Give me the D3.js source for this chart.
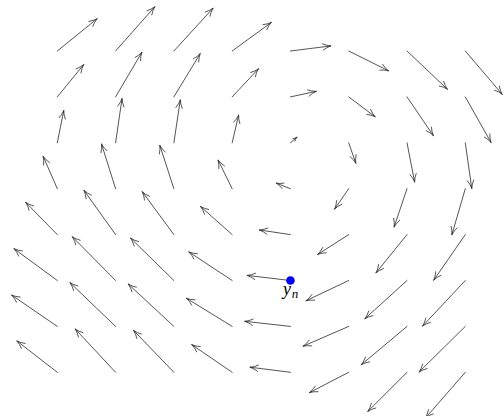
<!DOCTYPE html>
<html>
<head>
<meta charset="utf-8">
<script src="https://cdn.jsdelivr.net/npm/d3@7"></script>
<style>
  html, body { margin: 0; padding: 0; background: #fff; }
  svg { display: block; }
</style>
</head>
<body>
<svg id="chart" width="504" height="416"></svg>
<script>
// Grid of sample points (data units)
const xs = [0, 1, 2, 3, 4, 5, 6, 7];
const ys = [7, 6, 5, 4, 3, 2, 1, 0];   // rows, top to bottom

// Horizontal component u, one row per y (top to bottom), one entry per x
const U = [
  [0.68, 0.67, 0.67, 0.67, 0.69, 0.68, 0.69, 0.63],
  [0.45, 0.45, 0.45, 0.45, 0.44, 0.45, 0.45, 0.44],
  [0.11, 0.11, 0.11, 0.11, 0.11, 0.12, 0.13, 0.11],
  [-0.24, -0.24, -0.24, -0.24, -0.24, -0.24, -0.22, -0.23],
  [-0.54, -0.54, -0.54, -0.54, -0.53, -0.53, -0.53, -0.54],
  [-0.74, -0.74, -0.74, -0.74, -0.74, -0.73, -0.72, -0.73],
  [-0.78, -0.78, -0.78, -0.78, -0.78, -0.78, -0.78, -0.79],
  [-0.69, -0.69, -0.69, -0.69, -0.69, -0.67, -0.67, -0.68]
];
// Vertical component v (positive = up), same layout
const V = [
  [0.70, 0.96, 0.93, 0.62, 0.11, -0.43, -0.83, -0.94],
  [0.70, 0.97, 0.94, 0.61, 0.12, -0.43, -0.84, -0.99],
  [0.70, 0.96, 0.93, 0.60, 0.12, -0.44, -0.85, -0.99],
  [0.70, 0.97, 0.94, 0.62, 0.12, -0.44, -0.83, -1.00],
  [0.70, 0.96, 0.93, 0.61, 0.10, -0.43, -0.83, -0.99],
  [0.69, 0.95, 0.92, 0.62, 0.11, -0.44, -0.83, -0.99],
  [0.68, 0.95, 0.92, 0.61, 0.11, -0.43, -0.83, -0.99],
  [0.68, 0.94, 0.91, 0.60, 0.11, -0.44, -0.85, -0.99]
];

// Highlighted point and its label
const point = { x: 4, y: 2, label: "y", sub: "n" };

const svg = d3.select("#chart");
const x = d3.scaleLinear().domain([0, 7]).range([57.3, 465.3]);
const y = d3.scaleLinear().domain([0, 7]).range([372.3, 51]);

const arrows = [];
ys.forEach((yv, i) => {
  xs.forEach((xv, j) => {
    arrows.push({ x0: xv, y0: yv, x1: xv + U[i][j], y1: yv + V[i][j] });
  });
});

// Shaft plus two slightly curved barbs meeting at the tip
function arrowPath(d) {
  const ax = x(d.x0), ay = y(d.y0), bx = x(d.x1), by = y(d.y1);
  const len = Math.hypot(bx - ax, by - ay);
  const ang = Math.atan2(by - ay, bx - ax);
  const h = Math.min(8.5, len * 0.5);
  const spread = 0.38;
  const p = d3.path();
  p.moveTo(ax, ay);
  p.lineTo(bx, by);
  [-1, 1].forEach(s => {
    const a = ang + Math.PI + s * spread;
    const ex = bx + h * Math.cos(a), ey = by + h * Math.sin(a);
    const ma = ang + Math.PI + s * spread * 0.55;
    const mx = bx + h * 0.5 * Math.cos(ma), my = by + h * 0.5 * Math.sin(ma);
    p.moveTo(ex, ey);
    p.quadraticCurveTo(mx, my, bx, by);
  });
  return p.toString();
}

svg.append("g")
  .selectAll("path")
  .data(arrows)
  .join("path")
  .attr("d", arrowPath)
  .attr("fill", "none")
  .attr("stroke", "#2a2a2a")
  .attr("stroke-width", 0.8)
  .attr("stroke-linecap", "round");

svg.append("circle")
  .attr("cx", x(point.x))
  .attr("cy", y(point.y))
  .attr("r", 4.3)
  .attr("fill", "#0000ff");

const t = svg.append("text")
  .attr("x", x(point.x) - 7.5)
  .attr("y", y(point.y) + 14.5)
  .attr("font-family", "'Liberation Serif', 'DejaVu Serif', serif")
  .attr("font-style", "italic")
  .attr("font-size", 18)
  .attr("fill", "#000");
t.append("tspan").text(point.label);
t.append("tspan").attr("dy", 2.5).attr("font-size", 13).attr("dx", 0.8).text(point.sub);
</script>
</body>
</html>
